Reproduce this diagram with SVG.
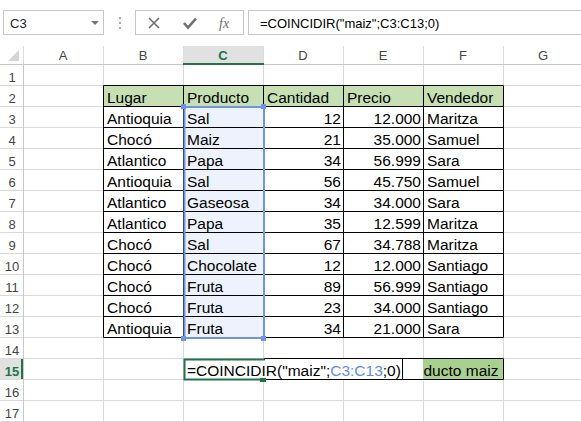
<svg xmlns="http://www.w3.org/2000/svg" width="581" height="422" viewBox="0 0 581 422">
<style>
.cell{font-family:"Liberation Sans",Arial,sans-serif;font-size:15.5px;fill:#000}
.num{text-anchor:end}
.hdr{font-family:"Liberation Sans",Arial,sans-serif;font-size:13px;fill:#444;text-anchor:middle}
.hdrA{font-family:"Liberation Sans",Arial,sans-serif;font-size:13px;fill:#217346;font-weight:bold;text-anchor:middle}
.grid{stroke:#d9d9d9;stroke-width:1;fill:none}
.bk{stroke:#000;stroke-width:1;fill:none}
.box{fill:#fff;stroke:#c6c6c6;stroke-width:1}
.h{fill:#6f93e6}
</style>
<rect width="581" height="422" fill="#fff"/>
<g id="formula-bar">
<rect class="box" x="3.5" y="10.5" width="100" height="24"/>
<text x="10" y="28" style="font-family:'Liberation Sans',Arial,sans-serif;font-size:13px;fill:#222">C3</text>
<polygon points="91,21 99,21 95,25" fill="#777"/>
<g fill="#aaa"><rect x="119" y="17" width="2" height="2"/><rect x="119" y="22" width="2" height="2"/><rect x="119" y="27" width="2" height="2"/></g>
<rect class="box" x="135.5" y="10.5" width="108" height="24"/>
<path d="M149,18 L159,28 M159,18 L149,28" stroke="#6e6e6e" stroke-width="1.6" fill="none"/>
<path d="M184,23 L188,27.5 L196,18.5" stroke="#6e6e6e" stroke-width="2.6" fill="none"/>
<text x="219" y="28" style="font-family:'Liberation Serif',serif;font-style:italic;font-size:14px;fill:#6e6e6e">fx</text>
<rect class="box" x="248.5" y="10.5" width="340" height="24"/>
<text x="260" y="28" style="font-family:'Liberation Sans',Arial,sans-serif;font-size:13px;fill:#000">=COINCIDIR("maiz";C3:C13;0)</text>
</g>
<g id="column-headers">
<rect x="183" y="46" width="80" height="19" fill="#e1e1e1"/>
<path d="M23.5,46 V65 M103.5,46 V65 M183.5,46 V65 M263.5,46 V65 M343.5,46 V65 M423.5,46 V65 M503.5,46 V65" stroke="#dcdcdc"/>
<line x1="0" y1="64.5" x2="581" y2="64.5" stroke="#c8c8c8"/>
<rect x="183" y="63" width="81" height="2" fill="#217346"/>
<polygon points="19,50 19,61 8,61" fill="#d4d4d4"/>
<text class="hdr" x="63" y="60">A</text>
<text class="hdr" x="143" y="60">B</text>
<text class="hdrA" x="223" y="60">C</text>
<text class="hdr" x="303" y="60">D</text>
<text class="hdr" x="383" y="60">E</text>
<text class="hdr" x="463" y="60">F</text>
<text class="hdr" x="543" y="60">G</text>
</g>
<g id="row-headers">
<rect x="0" y="359" width="23" height="21" fill="#e1e1e1"/>
<rect x="21" y="359" width="2" height="21" fill="#217346"/>
<text class="hdr" x="12" y="82">1</text>
<text class="hdr" x="12" y="103">2</text>
<text class="hdr" x="12" y="124">3</text>
<text class="hdr" x="12" y="145">4</text>
<text class="hdr" x="12" y="166">5</text>
<text class="hdr" x="12" y="187">6</text>
<text class="hdr" x="12" y="208">7</text>
<text class="hdr" x="12" y="229">8</text>
<text class="hdr" x="12" y="250">9</text>
<text class="hdr" x="12" y="271">10</text>
<text class="hdr" x="12" y="292">11</text>
<text class="hdr" x="12" y="313">12</text>
<text class="hdr" x="12" y="334">13</text>
<text class="hdr" x="12" y="355">14</text>
<text class="hdrA" x="12" y="376">15</text>
<text class="hdr" x="12" y="397">16</text>
<text class="hdr" x="12" y="418">17</text>
</g>
<g id="grid">
<path class="grid" d="M23.5,65 V422 M103.5,65 V422 M183.5,65 V422 M263.5,65 V422 M343.5,65 V422 M423.5,65 V422 M503.5,65 V422"/>
<path class="grid" d="M0,85.5 H581 M0,106.5 H581 M0,127.5 H581 M0,148.5 H581 M0,169.5 H581 M0,190.5 H581 M0,211.5 H581 M0,232.5 H581 M0,253.5 H581 M0,274.5 H581 M0,295.5 H581 M0,316.5 H581 M0,337.5 H581 M0,358.5 H581 M0,379.5 H581 M0,400.5 H581 M0,421.5 H581"/>
<path d="M23.5,65 V422" stroke="#c8c8c8"/>
</g>
<g id="table">
<rect x="104" y="86" width="400" height="21" fill="#c6e0b4"/>
<rect x="184" y="107" width="80" height="231" fill="#edf2fc"/>
<path class="bk" d="M103.5,85.5 H503.5 M103.5,106.5 H503.5 M103.5,127.5 H503.5 M103.5,148.5 H503.5 M103.5,169.5 H503.5 M103.5,190.5 H503.5 M103.5,211.5 H503.5 M103.5,232.5 H503.5 M103.5,253.5 H503.5 M103.5,274.5 H503.5 M103.5,295.5 H503.5 M103.5,316.5 H503.5 M103.5,337.5 H503.5"/>
<path class="bk" d="M103.5,85.5 V337.5 M183.5,85.5 V337.5 M263.5,85.5 V337.5 M343.5,85.5 V337.5 M423.5,85.5 V337.5 M503.5,85.5 V337.5"/>
<g class="cell">
<text x="107" y="103">Lugar</text><text x="187" y="103">Producto</text><text x="267" y="103">Cantidad</text><text x="347" y="103">Precio</text><text x="427" y="103">Vendedor</text>
<text x="107" y="124">Antioquia</text><text x="187" y="124">Sal</text><text class="num" x="341" y="124">12</text><text class="num" x="421" y="124">12.000</text><text x="427" y="124">Maritza</text>
<text x="107" y="145">Chocó</text><text x="187" y="145">Maiz</text><text class="num" x="341" y="145">21</text><text class="num" x="421" y="145">35.000</text><text x="427" y="145">Samuel</text>
<text x="107" y="166">Atlantico</text><text x="187" y="166">Papa</text><text class="num" x="341" y="166">34</text><text class="num" x="421" y="166">56.999</text><text x="427" y="166">Sara</text>
<text x="107" y="187">Antioquia</text><text x="187" y="187">Sal</text><text class="num" x="341" y="187">56</text><text class="num" x="421" y="187">45.750</text><text x="427" y="187">Samuel</text>
<text x="107" y="208">Atlantico</text><text x="187" y="208">Gaseosa</text><text class="num" x="341" y="208">34</text><text class="num" x="421" y="208">34.000</text><text x="427" y="208">Sara</text>
<text x="107" y="229">Atlantico</text><text x="187" y="229">Papa</text><text class="num" x="341" y="229">35</text><text class="num" x="421" y="229">12.599</text><text x="427" y="229">Maritza</text>
<text x="107" y="250">Chocó</text><text x="187" y="250">Sal</text><text class="num" x="341" y="250">67</text><text class="num" x="421" y="250">34.788</text><text x="427" y="250">Maritza</text>
<text x="107" y="271">Chocó</text><text x="187" y="271">Chocolate</text><text class="num" x="341" y="271">12</text><text class="num" x="421" y="271">12.000</text><text x="427" y="271">Santiago</text>
<text x="107" y="292">Chocó</text><text x="187" y="292">Fruta</text><text class="num" x="341" y="292">89</text><text class="num" x="421" y="292">56.999</text><text x="427" y="292">Santiago</text>
<text x="107" y="313">Chocó</text><text x="187" y="313">Fruta</text><text class="num" x="341" y="313">23</text><text class="num" x="421" y="313">34.000</text><text x="427" y="313">Santiago</text>
<text x="107" y="334">Antioquia</text><text x="187" y="334">Fruta</text><text class="num" x="341" y="334">34</text><text class="num" x="421" y="334">21.000</text><text x="427" y="334">Sara</text>
</g>
</g>
<g id="selection">
<rect x="184.5" y="107" width="79.5" height="231" fill="none" stroke="#6f93e6" stroke-width="2"/>
<rect class="h" x="181" y="104" width="5" height="5"/>
<rect class="h" x="261" y="104" width="5" height="5"/>
<rect class="h" x="181" y="336" width="5" height="5"/>
<rect class="h" x="261" y="336" width="5" height="5"/>
</g>
<g id="edit-cell">
<rect x="184" y="359" width="320" height="21" fill="#fff"/>
<rect x="423" y="359" width="80" height="21" fill="#a9d08e"/>
<path class="bk" d="M264,358.5 H503.5 V379.5 H264 M402.5,358.5 V379.5"/>
<path d="M265,359.5 H184.5 V379.5 H265" fill="none" stroke="#217346" stroke-width="2"/>
<rect x="260" y="378" width="6" height="4" fill="#217346"/>
<text class="cell" x="187" y="376">=COINCIDIR("maiz";<tspan fill="#5b8de8">C3:C13</tspan>;0)</text>
<text class="cell" x="423.5" y="376">ducto maiz</text>
</g>
</svg>
